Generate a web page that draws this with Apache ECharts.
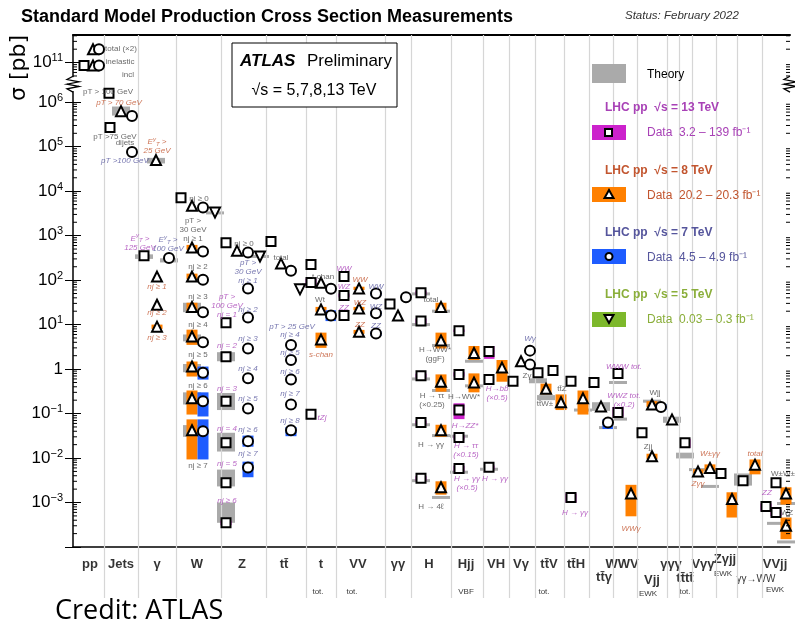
<!DOCTYPE html>
<html>
<head>
<meta charset="utf-8">
<title>SM cross sections</title>
<script src="https://cdn.jsdelivr.net/npm/echarts@6/dist/echarts.min.js"></script>
<style>
html, body { margin: 0; padding: 0; background: #fff; }
#main { width: 795px; height: 628px; }
</style>
</head>
<body>
<div id="main"></div>
<script>
// x is a position along the process axis (0 .. 717), y is sigma in pb
var X_MAX = 717;
var Y_MIN = 1e-4, Y_MAX = 4.17e11;
var BREAK_LO = 1.78e6, BREAK_HI = 4.68e10;

// decades that get a tick / a label
var tickValues = [1e-4, 1e-3, 1e-2, 1e-1, 1, 1e1, 1e2, 1e3, 1e4, 1e5, 1e6, 1e11];
var labelValues = [1e-3, 1e-2, 1e-1, 1, 1e1, 1e2, 1e3, 1e4, 1e5, 1e6, 1e11];

// borders between process groups
var groupEdges = [31, 65, 103, 148, 193, 233, 263, 312, 338, 378, 410, 436, 462, 491, 516, 540, 564, 594, 606, 619, 643, 664, 689];

// group names under the axis: [x, row, text]
var catMain = [
  [17, 0.66, 'pp'], [48, 0.66, 'Jets'], [84, 0.66, 'γ'], [124, 0.66, 'W'], [169, 0.66, 'Z'],
  [211, 0.66, 'tt̄'], [248, 0.66, 't'], [285, 0.66, 'VV'], [325, 0.66, 'γγ'], [356, 0.66, 'H'],
  [393, 0.66, 'Hjj'], [423, 0.66, 'VH'], [448, 0.66, 'Vγ'], [476, 0.66, 'tt̄V'], [503, 0.66, 'tt̄H'],
  [549, 0.66, 'WWV'], [531, 0.40, 'tt̄γ'], [579, 0.34, 'Vjj'], [598, 0.66, 'γγγ'], [612, 0.38, 'tt̄tt̄'],
  [630, 0.66, 'Vγγ'], [652, 0.76, 'Zγjj'], [702, 0.66, 'VVjj']
];
var catSmall = [[683, 0.36, 'γγ→WW']];
var catSub = [
  [245, 0.13, 'tot.'], [279, 0.13, 'tot.'], [393, 0.13, 'VBF'], [471, 0.13, 'tot.'],
  [575, 0.08, 'EWK'], [612, 0.13, 'tot.'], [650, 0.48, 'EWK'], [702, 0.17, 'EWK']
];

// measurements: [x, sigma, bandLow, bandHigh]
var data13 = [
  [11, 8.6e10], [36, 1.6e6], [37, 2.7e5], [71, 355], [108, 7.1e3],
  [153, 690], [153, 11], [153, 1.9], [153, 0.19], [153, 0.022], [153, 0.0028], [153, 3.5e-4, 3.1e-4, 3.9e-4],
  [198, 740], [238, 225], [238, 88, 72, 108], [238, 0.096],
  [271, 120], [271, 45, 41, 50], [271, 16], [317, 29],
  [348, 52, 47, 58], [348, 12, 10.5, 13.7], [348, 0.71, 0.64, 0.79], [348, 0.063, 0.057, 0.07], [348, 0.0035, 0.0031, 0.0039],
  [386, 7.3, 6.8, 7.8], [386, 0.76, 0.68, 0.85], [386, 0.12, 0.075, 0.17], [386, 0.029, 0.026, 0.032], [386, 0.0058, 0.005, 0.0067],
  [416, 2.5, 1.7, 3.3], [416, 0.58], [416, 0.0062, 0.0056, 0.0068],
  [440, 0.53], [465, 0.83], [480, 0.93], [498, 0.53], [498, 0.0013, 0.001, 0.0016], [521, 0.5],
  [545, 0.8], [545, 0.105, 0.085, 0.14], [569, 0.037], [612, 0.022, 0.017, 0.027],
  [648, 0.0045], [670, 0.0031], [703, 0.0028], [693, 8.1e-4, 6.5e-4, 9.5e-4], [703, 6e-4, 5e-4, 7e-4]
];
var data8 = [
  [20, 2.0e11], [20, 8.6e10], [48, 6.3e5], [83, 5.0e4], [84, 120], [84, 28], [84, 9, 8, 10],
  [119, 4.7e3], [119, 540, 480, 620], [119, 120, 105, 140], [119, 25, 20, 31], [119, 5.4, 3.5, 7.7],
  [119, 1.14, 0.68, 1.48], [119, 0.22, 0.095, 0.33], [119, 0.042, 0.0093, 0.074],
  [164, 460], [208, 235], [248, 87], [248, 22, 19, 25], [248, 4.6, 3.0, 6.6],
  [286, 65, 60, 71], [286, 23, 21, 25], [286, 6.9, 6.2, 7.6], [325, 16],
  [368, 25, 20, 31], [368, 4.4, 2.9, 6.6], [368, 0.52, 0.31, 0.76], [368, 0.042, 0.03, 0.056], [368, 0.0022, 0.0015, 0.003],
  [401, 2.3, 1.6, 3.3], [401, 0.5, 0.3, 0.8], [429, 1.08, 0.52, 1.6], [448, 1.5],
  [473, 0.36, 0.27, 0.47], [488, 0.18, 0.12, 0.27], [510, 0.22, 0.095, 0.33], [528, 0.145],
  [558, 0.0016, 4.9e-4, 0.0025], [579, 0.16, 0.14, 0.19], [579, 0.011, 0.0095, 0.0125], [599, 0.074],
  [625, 0.005, 0.0045, 0.0056], [637, 0.006, 0.005, 0.0072], [659, 0.0012, 4.6e-4, 0.0017],
  [682, 0.0071, 0.0043, 0.0093], [713, 0.0016, 9e-4, 0.0022], [713, 3.0e-4, 1.5e-4, 4.6e-4]
];
var data7 = [
  [26, 2.0e11], [26, 8.6e10], [59, 4.9e5], [59, 7.6e4], [96, 316],
  [130, 4.3e3], [130, 440], [130, 102], [130, 19], [130, 4.0],
  [130, 0.83, 0.58, 1.14], [130, 0.19, 0.086, 0.3], [130, 0.04, 0.0093, 0.074],
  [175, 420], [175, 65], [175, 14.5], [175, 2.9], [175, 0.62], [175, 0.13],
  [175, 0.024, 0.018, 0.032], [175, 0.0061, 0.0037, 0.0083],
  [218, 163], [218, 3.5], [218, 1.6], [218, 0.58], [218, 0.16], [218, 0.042, 0.031, 0.05],
  [258, 64], [258, 16, 12, 21], [303, 50, 45, 55], [303, 18, 16, 20], [303, 6.3, 5.6, 7], [333, 41],
  [457, 2.6], [457, 1.26], [535, 0.063, 0.045, 0.075], [588, 0.14, 0.12, 0.165]
];
var data5 = [[142, 3.3e3], [187, 340], [227, 62]];

// theory predictions: [x, low, high]
var theory = [
  [48, 5.0e5, 8.0e5], [83, 4.2e4, 5.6e4], [71, 300, 380], [96, 250, 310],
  [119, 19, 31], [119, 4.2, 6.0], [119, 0.85, 1.3], [119, 0.16, 0.3], [119, 0.03, 0.055], [142, 3.1e3, 3.4e3],
  [153, 1.5, 2.4], [153, 0.12, 0.29], [153, 0.014, 0.037], [153, 0.0023, 0.0055], [153, 3.5e-4, 1.0e-3],
  [187, 330, 350], [238, 78, 80],
  [348, 49, 49], [368, 20, 20], [348, 10, 10], [368, 3.4, 3.4], [348, 0.6, 0.6], [368, 0.33, 0.33],
  [348, 0.056, 0.056], [368, 0.032, 0.032], [348, 0.0031, 0.0031], [368, 0.0013, 0.0013],
  [401, 1.5, 1.5], [401, 0.42, 0.42], [386, 0.031, 0.031], [386, 0.0048, 0.0048], [416, 0.0056, 0.0056],
  [465, 0.48, 0.62], [473, 0.2, 0.26], [510, 0.12, 0.12], [528, 0.115, 0.18], [535, 0.045, 0.052],
  [545, 0.5, 0.5], [545, 0.075, 0.075], [579, 0.19, 0.19], [599, 0.062, 0.085], [612, 0.0098, 0.0132],
  [625, 0.0055, 0.0055], [637, 0.0023, 0.0023], [670, 0.0024, 0.0045],
  [713, 9.5e-4, 9.5e-4], [703, 3.4e-4, 3.4e-4], [713, 1.3e-4, 1.3e-4]
];

// annotations: [x, sigma, text]
var notesGray = [
  [48, 2.05e11, 'total (×2)'], [47, 1.05e11, 'inelastic'], [55, 5.2e10, 'incl'], [35, 1.7e6, 'pT > 100 GeV'],
  [42, 1.66e5, 'pT >75 GeV'], [52, 1.2e5, 'dijets'],
  [126, 6.8e3, 'nj ≥ 0'], [120, 1350, 'pT >\n30 GeV\nnj ≥ 1'], [125, 200, 'nj ≥ 2'], [125, 43, 'nj ≥ 3'],
  [125, 10, 'nj ≥ 4'], [125, 2.1, 'nj ≥ 5'], [125, 0.43, 'nj ≥ 6'], [125, 0.0068, 'nj ≥ 7'],
  [171, 660, 'nj ≥ 0'], [208, 320, 'total'], [250, 120, 't-chan'], [247, 36, 'Wt'],
  [358, 36, 'total'], [362, 2.1, 'H→WW*\n(ggF)'], [359, 0.2, 'H → ττ\n(×0.25)'], [358, 0.02, 'H → γγ'], [358, 8.1e-4, 'H → 4ℓ'],
  [391, 0.24, 'H→WW*'], [454, 0.71, 'Zγ'], [489, 0.36, 'tt̄Z'], [472, 0.17, 'tt̄W±'],
  [582, 0.29, 'Wjj'], [575, 0.018, 'Zjj'], [710, 0.0045, 'W±W±'], [714, 6e-4, 'WZ']
];
var notesOrange = [
  [46, 9.5e5, 'pT > 70 GeV'], [84, 1e5, 'E{sup|γ}{sub|T} >\n25 GeV'],
  [84, 71, 'nj ≥ 1'], [84, 18, 'nj ≥ 2'], [84, 5.1, 'nj ≥ 3'], [248, 2.1, 's-chan'],
  [287, 100, 'WW'], [287, 31, 'WZ'], [287, 10, 'ZZ'], [558, 2.6e-4, 'WWγ'],
  [637, 0.0126, 'W±γγ'], [625, 0.0027, 'Zγγ'], [682, 0.0126, 'total']
];
var notesMagenta = [
  [67, 690, 'E{sup|γ}{sub|T} >\n125 GeV'], [154, 27, 'pT >\n100 GeV\nnj = 1'],
  [154, 3.4, 'nj = 2'], [154, 0.36, 'nj = 3'], [154, 0.046, 'nj = 4'], [154, 0.0076, 'nj = 5'], [154, 0.0011, 'nj ≥ 6'],
  [249, 0.081, 'tZj'], [271, 182, 'WW'], [271, 71, 'WZ'], [271, 24, 'ZZ'],
  [392, 0.054, 'H→ZZ*'], [393, 0.015, 'H → ττ\n(×0.15)'], [394, 0.0027, 'H → γγ\n(×0.5)'],
  [424, 0.29, 'H→bb̄\n(×0.5)'], [422, 0.0035, 'H → γγ'], [502, 6e-4, 'H → γγ'],
  [551, 1.15, 'WWW tot.'], [551, 0.2, 'WWZ tot.\n(×0.2)'], [694, 0.00168, 'ZZ']
];
var notesBlue = [
  [52, 4.9e4, 'pT >100 GeV'], [95, 630, 'E{sup|γ}{sub|T} >\n100 GeV'], [175, 155, 'pT >\n30 GeV\nnj ≥ 1'],
  [175, 22, 'nj ≥ 2'], [175, 4.9, 'nj ≥ 3'], [175, 1.0, 'nj ≥ 4'], [175, 0.22, 'nj ≥ 5'], [175, 0.044, 'nj ≥ 6'], [175, 0.0126, 'nj ≥ 7'],
  [219, 9.1, 'pT > 25 GeV'], [217, 6.0, 'nj ≥ 4'], [217, 2.3, 'nj ≥ 5'], [217, 0.87, 'nj ≥ 6'], [217, 0.28, 'nj ≥ 7'], [217, 0.069, 'nj ≥ 8'],
  [303, 71, 'WW'], [303, 25, 'WZ'], [303, 9.5, 'ZZ'], [457, 4.9, 'Wγ']
];

var FONT = 'Liberation Sans';
var C13 = '#cc22cc', C8 = '#ff8000', C7 = '#1e5cff', C5 = '#7db82b', CTH = '#aaaaaa';
var T13 = '#a841b6', T8 = '#c2552f', T7 = '#55559c', T5 = '#8aae3a';

var chart = echarts.init(document.getElementById('main'));

function rectRender(color, w, minH) {
  return function (params, api) {
    var x = api.value(0);
    var a = api.coord([x, api.value(2)]);
    var b = api.coord([x, api.value(1)]);
    var h = Math.max(b[1] - a[1], minH);
    var cy = (a[1] + b[1]) / 2;
    return { type: 'rect', shape: { x: a[0] - w / 2, y: cy - h / 2, width: w, height: h }, style: { fill: color } };
  };
}

function bandSeries(data, color) {
  return {
    type: 'custom', xAxisIndex: 0, yAxisIndex: 0, z: 3, silent: true,
    renderItem: rectRender(color, 11, 2),
    encode: { x: 0, y: [1, 2] },
    data: data.filter(function (d) { return d.length > 2; }).map(function (d) { return [d[0], d[2], d[3]]; })
  };
}

function markerSeries(data, symbol, size, rotate) {
  return {
    type: 'scatter', xAxisIndex: 0, yAxisIndex: 0, z: 5, silent: true,
    symbol: symbol, symbolSize: size, symbolRotate: rotate || 0,
    itemStyle: { color: '#fff', borderColor: '#000', borderWidth: 2, opacity: 1 },
    data: data.map(function (d) { return [d[0], d[1]]; })
  };
}

var richTxt = {
  sup: { fontSize: 6, padding: [0, 0, 5, 0] },
  sub: { fontSize: 6, padding: [4, 0, 0, 0] }
};

function noteSeries(arr, color, italic) {
  return {
    type: 'scatter', xAxisIndex: 0, yAxisIndex: 0, z: 8, silent: true, symbolSize: 0,
    data: arr.map(function (n) { return { name: n[2], value: [n[0], n[1]] }; }),
    label: {
      show: true, position: 'inside', color: color, fontSize: 8, lineHeight: 9,
      fontFamily: FONT, fontStyle: italic ? 'italic' : 'normal',
      formatter: function (p) { return p.name; }, rich: richTxt
    }
  };
}

function catSeries(arr, size, bold) {
  return {
    type: 'scatter', xAxisIndex: 2, yAxisIndex: 2, symbolSize: 0, silent: true,
    data: arr.map(function (n) { return { name: n[2], value: [n[0], n[1]] }; }),
    label: {
      show: true, position: 'inside', color: '#000', fontSize: size, fontFamily: FONT,
      fontWeight: bold ? 'bold' : 'normal', formatter: function (p) { return p.name; }
    }
  };
}

// minor ticks (2..9 in each decade) and the axis break marks
function axisExtras(params, api) {
  var kids = [];
  var xl = api.coord([0, 1])[0], xr = api.coord([X_MAX, 1])[0];
  for (var e = -4; e <= 11; e++) {
    for (var k = 2; k <= 9; k++) {
      var v = k * Math.pow(10, e);
      if (v < Y_MIN || v > Y_MAX || (v > BREAK_LO && v < BREAK_HI)) continue;
      var y = api.coord([0, v])[1];
      kids.push({ type: 'line', shape: { x1: xl, y1: y, x2: xl + 4, y2: y }, style: { stroke: '#000', lineWidth: 1 } });
      kids.push({ type: 'line', shape: { x1: xr, y1: y, x2: xr - 4, y2: y }, style: { stroke: '#000', lineWidth: 1 } });
    }
  }
  var yb = api.coord([0, BREAK_LO])[1], yt = api.coord([0, BREAK_HI])[1];
  [xl, xr].forEach(function (x0) {
    kids.push({ type: 'rect', shape: { x: x0 - 2, y: yt, width: 4, height: yb - yt }, style: { fill: '#fff' } });
    var pts = [[x0, yb + 1]];
    var n = 6;
    for (var i = 1; i < n; i++) pts.push([x0 + (i % 2 ? -6 : 6), yb + (yt - yb) * i / n]);
    pts.push([x0, yt - 1]);
    kids.push({ type: 'polyline', shape: { points: pts }, style: { stroke: '#000', lineWidth: 1.3, fill: null } });
  });
  return { type: 'group', children: kids };
}

function expLabel(v) {
  var e = Math.round(Math.log10(v));
  if (e === 0) return '{b|1}';
  return '{b|10}{s|' + String(e).replace('-', '−') + '}';
}

var yBase = {
  type: 'log', logBase: 10, min: Y_MIN, max: Y_MAX,
  breaks: [{ start: BREAK_LO, end: BREAK_HI, gap: '2.7%' }],
  breakArea: { show: false },
  splitLine: { show: false }
};

var sepLines = groupEdges.map(function (x) { return { xAxis: x }; });

var option = {
  animation: false,
  backgroundColor: '#fff',
  title: {
    text: 'Standard Model Production Cross Section Measurements',
    left: 16, top: 3,
    textStyle: { fontFamily: FONT, fontSize: 18, fontWeight: 'bold', color: '#000' }
  },
  grid: [
    { left: 73, right: 5, top: 35, height: 512 },
    { left: 73, right: 5, top: 547, height: 51 }
  ],
  xAxis: [
    { type: 'value', gridIndex: 0, min: 0, max: X_MAX, position: 'bottom',
      axisLine: { show: true, lineStyle: { color: '#000', width: 1.5 } },
      axisTick: { show: false }, axisLabel: { show: false }, splitLine: { show: false } },
    { type: 'value', gridIndex: 0, min: 0, max: X_MAX, position: 'top',
      axisLine: { show: true, lineStyle: { color: '#000', width: 2 } },
      axisTick: { show: false }, axisLabel: { show: false }, splitLine: { show: false } },
    { type: 'value', gridIndex: 1, min: 0, max: X_MAX, show: false }
  ],
  yAxis: [
    Object.assign({}, yBase, {
      gridIndex: 0, position: 'left',
      axisLine: { show: true, lineStyle: { color: '#000', width: 1.5 } },
      axisTick: { show: true, inside: true, length: 8, lineStyle: { color: '#000' }, customValues: tickValues },
      axisLabel: {
        show: true, margin: 10, formatter: expLabel, customValues: labelValues,
        rich: {
          b: { fontSize: 17, fontFamily: FONT, color: '#000' },
          s: { fontSize: 11, fontFamily: FONT, color: '#000', padding: [0, 0, 9, 0] }
        }
      }
    }),
    Object.assign({}, yBase, {
      gridIndex: 0, position: 'right',
      axisLine: { show: false },
      axisTick: { show: true, inside: true, length: 8, lineStyle: { color: '#000' }, customValues: tickValues },
      axisLabel: { show: false }
    }),
    { type: 'value', gridIndex: 1, min: 0, max: 1, show: false }
  ],
  graphic: [
    { type: 'text', x: 625, y: 16, style: { text: 'Status: February 2022', font: 'italic 11.5px ' + FONT, fill: '#333', verticalAlign: 'middle' } },
    { type: 'text', x: 19, y: 68, rotation: Math.PI / 2, style: { text: 'σ [pb]', font: '22px "DejaVu Sans"', fill: '#000', align: 'center', verticalAlign: 'middle' } },
    { type: 'text', x: 55, y: 611, style: { text: 'Credit: ATLAS', font: '27px "Open Sans"', fill: '#000', verticalAlign: 'middle' } },
    // ATLAS box
    { type: 'rect', z: 20, shape: { x: 232, y: 43, width: 165, height: 64 }, style: { fill: '#fff', stroke: '#000', lineWidth: 1 } },
    { type: 'text', z: 21, x: 240, y: 61, style: { text: 'ATLAS', font: 'italic bold 17px ' + FONT, fill: '#000', verticalAlign: 'middle' } },
    { type: 'text', z: 21, x: 307, y: 61, style: { text: 'Preliminary', font: '17px ' + FONT, fill: '#000', verticalAlign: 'middle' } },
    { type: 'text', z: 21, x: 314, y: 91, style: { text: '√s = 5,7,8,13 TeV', font: '16px ' + FONT, fill: '#000', align: 'center', verticalAlign: 'middle' } },
    // legend
    { type: 'rect', z: 20, shape: { x: 592, y: 64, width: 34, height: 19 }, style: { fill: CTH } },
    { type: 'text', z: 21, x: 647, y: 75, style: { text: 'Theory', font: '12px ' + FONT, fill: '#000', verticalAlign: 'middle' } },

    { type: 'text', z: 21, x: 605, y: 108, style: { text: 'LHC pp  √s = 13 TeV', font: 'bold 12px ' + FONT, fill: T13, verticalAlign: 'middle' } },
    { type: 'rect', z: 20, shape: { x: 592, y: 125, width: 34, height: 15 }, style: { fill: C13 } },
    { type: 'rect', z: 21, shape: { x: 605, y: 129, width: 7, height: 7 }, style: { fill: '#fff', stroke: '#000', lineWidth: 2 } },
    { type: 'text', z: 21, x: 647, y: 133, style: { text: 'Data  3.2 – 139 fb⁻¹', font: '12px ' + FONT, fill: T13, verticalAlign: 'middle' } },

    { type: 'text', z: 21, x: 605, y: 171, style: { text: 'LHC pp  √s = 8 TeV', font: 'bold 12px ' + FONT, fill: T8, verticalAlign: 'middle' } },
    { type: 'rect', z: 20, shape: { x: 592, y: 187, width: 34, height: 15 }, style: { fill: C8 } },
    { type: 'polygon', z: 21, shape: { points: [[609, 190], [604.5, 198], [613.5, 198]] }, style: { fill: '#fff', stroke: '#000', lineWidth: 2 } },
    { type: 'text', z: 21, x: 647, y: 196, style: { text: 'Data  20.2 – 20.3 fb⁻¹', font: '12px ' + FONT, fill: T8, verticalAlign: 'middle' } },

    { type: 'text', z: 21, x: 605, y: 233, style: { text: 'LHC pp  √s = 7 TeV', font: 'bold 12px ' + FONT, fill: T7, verticalAlign: 'middle' } },
    { type: 'rect', z: 20, shape: { x: 592, y: 249, width: 34, height: 15 }, style: { fill: C7 } },
    { type: 'circle', z: 21, shape: { cx: 609, cy: 256.5, r: 3.5 }, style: { fill: '#fff', stroke: '#000', lineWidth: 2 } },
    { type: 'text', z: 21, x: 647, y: 258, style: { text: 'Data  4.5 – 4.9 fb⁻¹', font: '12px ' + FONT, fill: T7, verticalAlign: 'middle' } },

    { type: 'text', z: 21, x: 605, y: 295, style: { text: 'LHC pp  √s = 5 TeV', font: 'bold 12px ' + FONT, fill: T5, verticalAlign: 'middle' } },
    { type: 'rect', z: 20, shape: { x: 592, y: 312, width: 34, height: 15 }, style: { fill: C5 } },
    { type: 'polygon', z: 21, shape: { points: [[609, 323], [604.5, 315], [613.5, 315]] }, style: { fill: '#fff', stroke: '#000', lineWidth: 2 } },
    { type: 'text', z: 21, x: 647, y: 320, style: { text: 'Data  0.03 – 0.3 fb⁻¹', font: '12px ' + FONT, fill: T5, verticalAlign: 'middle' } }
  ],
  series: [
    {
      type: 'scatter', xAxisIndex: 0, yAxisIndex: 0, data: [], silent: true,
      markLine: { silent: true, symbol: 'none', label: { show: false }, lineStyle: { color: '#d6d6d6', width: 1.2, type: 'solid' }, data: sepLines }
    },
    {
      type: 'scatter', xAxisIndex: 2, yAxisIndex: 2, data: [], silent: true,
      markLine: { silent: true, symbol: 'none', label: { show: false }, lineStyle: { color: '#d6d6d6', width: 1.2, type: 'solid' }, data: sepLines }
    },
    {
      type: 'custom', xAxisIndex: 0, yAxisIndex: 0, z: 2, silent: true,
      renderItem: rectRender(CTH, 18, 3), encode: { x: 0, y: [1, 2] }, data: theory
    },
    bandSeries(data13, C13),
    bandSeries(data8, C8),
    bandSeries(data7, C7),
    bandSeries(data5, C5),
    markerSeries(data13, 'rect', 9),
    markerSeries(data8, 'triangle', 10),
    markerSeries(data7, 'circle', 10),
    markerSeries(data5, 'triangle', 10, 180),
    noteSeries(notesGray, '#444', false),
    noteSeries(notesOrange, T8, true),
    noteSeries(notesMagenta, T13, true),
    noteSeries(notesBlue, T7, true),
    {
      type: 'custom', xAxisIndex: 0, yAxisIndex: 0, z: 12, silent: true, clip: false,
      renderItem: axisExtras, data: [[0, 1]]
    },
    catSeries(catMain, 13, true),
    catSeries(catSmall, 10, false),
    catSeries(catSub, 8, false)
  ]
};

chart.setOption(option);
</script>
</body>
</html>
